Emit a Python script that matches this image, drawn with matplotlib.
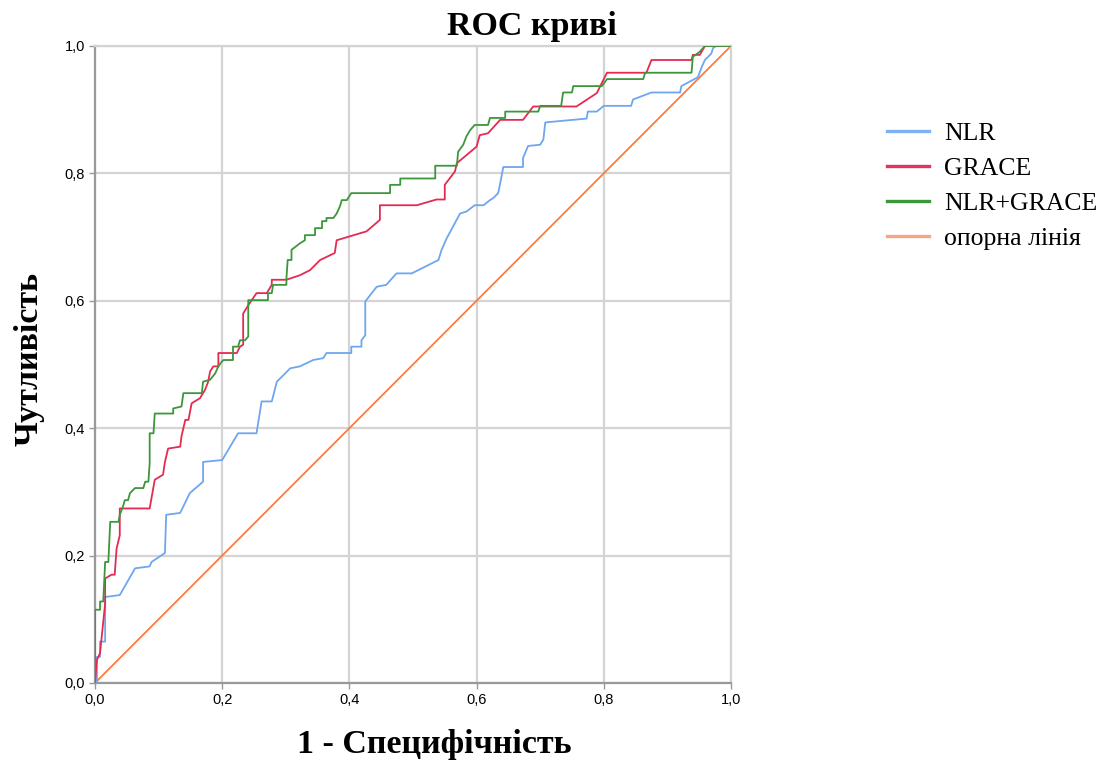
import numpy as np
import matplotlib
matplotlib.use("Agg")
import matplotlib.pyplot as plt
from matplotlib.lines import Line2D

# ROC точки (1 - специфічність, чутливість)
nlr_x = [0, 0.003, 0.003, 0.008, 0.008, 0.016, 0.016, 0.039, 0.063, 0.086, 0.089, 0.11, 0.112, 0.134, 0.149,
         0.17, 0.17, 0.2, 0.225, 0.254, 0.262, 0.278, 0.286, 0.307, 0.322, 0.343, 0.359, 0.364, 0.403, 0.403,
         0.419, 0.419, 0.425, 0.425, 0.443, 0.458, 0.474, 0.498, 0.54, 0.545, 0.553, 0.574, 0.584, 0.597,
         0.611, 0.621, 0.626, 0.634, 0.637, 0.642, 0.673, 0.673, 0.681, 0.7, 0.705, 0.708, 0.773, 0.775,
         0.789, 0.8, 0.843, 0.846, 0.875, 0.92, 0.922, 0.948, 0.954, 0.959, 0.961, 0.969, 0.972, 0.977, 1]
nlr_y = [0, 0, 0.041, 0.041, 0.065, 0.065, 0.135, 0.138, 0.18, 0.183, 0.19, 0.204, 0.264, 0.267, 0.298,
         0.316, 0.347, 0.35, 0.392, 0.392, 0.442, 0.442, 0.473, 0.494, 0.497, 0.507, 0.51, 0.518, 0.518, 0.528,
         0.528, 0.538, 0.546, 0.599, 0.622, 0.625, 0.643, 0.643, 0.664, 0.68, 0.698, 0.737, 0.74, 0.75,
         0.75, 0.758, 0.761, 0.769, 0.784, 0.81, 0.81, 0.824, 0.843, 0.845, 0.853, 0.88, 0.886, 0.897,
         0.897, 0.906, 0.906, 0.916, 0.927, 0.927, 0.937, 0.951, 0.967, 0.978, 0.98, 0.988, 0.997, 1.0, 1]

grace_x = [0, 0.003, 0.008, 0.016, 0.016, 0.026, 0.031, 0.034, 0.039, 0.039, 0.086, 0.094, 0.107, 0.11,
           0.115, 0.134, 0.136, 0.142, 0.147, 0.152, 0.16, 0.165, 0.173, 0.178, 0.181, 0.186, 0.194, 0.194,
           0.223, 0.228, 0.233, 0.233, 0.241, 0.254, 0.27, 0.278, 0.278, 0.301, 0.322, 0.338, 0.354, 0.377,
           0.38, 0.427, 0.448, 0.448, 0.506, 0.537, 0.55, 0.55, 0.566, 0.569, 0.6, 0.605, 0.618, 0.637,
           0.673, 0.689, 0.757, 0.789, 0.805, 0.867, 0.875, 0.938, 0.94, 0.951, 0.959, 1]
grace_y = [0, 0.036, 0.047, 0.125, 0.164, 0.17, 0.17, 0.211, 0.232, 0.274, 0.274, 0.319, 0.327, 0.347,
           0.368, 0.371, 0.387, 0.413, 0.413, 0.439, 0.444, 0.447, 0.46, 0.473, 0.489, 0.497, 0.497, 0.518,
           0.518, 0.528, 0.531, 0.58, 0.593, 0.612, 0.612, 0.625, 0.633, 0.633, 0.64, 0.648, 0.664, 0.675,
           0.695, 0.709, 0.727, 0.75, 0.75, 0.759, 0.759, 0.782, 0.803, 0.816, 0.842, 0.86, 0.863, 0.884,
           0.884, 0.905, 0.905, 0.926, 0.958, 0.958, 0.978, 0.978, 0.986, 0.986, 1.0, 1]

comb_x = [0, 0, 0.008, 0.008, 0.013, 0.016, 0.021, 0.024, 0.037, 0.039, 0.044, 0.047, 0.052, 0.055, 0.063,
          0.076, 0.079, 0.084, 0.086, 0.086, 0.092, 0.094, 0.123, 0.123, 0.136, 0.139, 0.168, 0.17, 0.181,
          0.189, 0.194, 0.199, 0.202, 0.217, 0.217, 0.225, 0.228, 0.236, 0.241, 0.241, 0.272, 0.272, 0.278,
          0.28, 0.301, 0.301, 0.303, 0.309, 0.309, 0.322, 0.33, 0.33, 0.346, 0.346, 0.357, 0.357, 0.364,
          0.364, 0.375, 0.38, 0.385, 0.388, 0.396, 0.403, 0.464, 0.464, 0.48, 0.48, 0.535, 0.535, 0.569,
          0.571, 0.579, 0.584, 0.59, 0.597, 0.618, 0.621, 0.645, 0.645, 0.697, 0.7, 0.733, 0.736, 0.75,
          0.752, 0.797, 0.805, 0.862, 0.865, 0.938, 0.94, 0.951, 0.959, 1]
comb_y = [0, 0.115, 0.115, 0.128, 0.128, 0.19, 0.19, 0.253, 0.253, 0.264, 0.277, 0.287, 0.287, 0.298, 0.306,
          0.306, 0.316, 0.316, 0.345, 0.392, 0.392, 0.423, 0.423, 0.431, 0.434, 0.455, 0.455, 0.473, 0.476,
          0.486, 0.497, 0.504, 0.507, 0.507, 0.528, 0.528, 0.538, 0.538, 0.544, 0.601, 0.601, 0.612, 0.612,
          0.625, 0.625, 0.635, 0.664, 0.664, 0.68, 0.69, 0.695, 0.703, 0.703, 0.714, 0.714, 0.725, 0.725,
          0.73, 0.73, 0.737, 0.748, 0.758, 0.758, 0.769, 0.769, 0.782, 0.782, 0.792, 0.792, 0.812, 0.812,
          0.834, 0.845, 0.858, 0.868, 0.876, 0.876, 0.887, 0.887, 0.897, 0.897, 0.906, 0.906, 0.927, 0.927,
          0.937, 0.937, 0.948, 0.948, 0.958, 0.958, 0.983, 0.991, 1.0, 1]

ref_x = [0, 1]
ref_y = [0, 1]

labels = ["NLR", "GRACE", "NLR+GRACE", "опорна лінія"]
colors = ["#6ea6ef", "#e52a52", "#3c963c", "#ff7b3a"]
legend_colors = ["#7fb0f0", "#e0355e", "#3c963c", "#f6a683"]

serif = ["Liberation Serif", "DejaVu Serif"]
sans = ["Liberation Sans Narrow", "Liberation Sans", "DejaVu Sans"]

fig = plt.figure(figsize=(11.16, 7.65), dpi=100)
ax = fig.add_axes([0.0851, 0.1072, 0.5699, 0.8327])

ax.plot(nlr_x, nlr_y, color=colors[0], lw=1.3, zorder=3)
ax.plot(grace_x, grace_y, color=colors[1], lw=1.3, zorder=4)
ax.plot(comb_x, comb_y, color=colors[2], lw=1.3, zorder=5)
ax.plot(ref_x, ref_y, color=colors[3], lw=1.3, zorder=2)

ax.set_xlim(0, 1)
ax.set_ylim(0, 1)
ticks = np.arange(0, 1.01, 0.2)
ax.set_xticks(ticks)
ax.set_yticks(ticks)
ax.set_xticklabels([f"{t:.1f}".replace(".", ",") for t in ticks], family=sans, fontsize=10.5)
ax.set_yticklabels([f"{t:.1f}".replace(".", ",") for t in ticks], family=sans, fontsize=10.5)
ax.tick_params(length=4, width=1, color="#999999", pad=3)
ax.grid(True, color="#d4d4d4", lw=1.6, zorder=0)
ax.set_axisbelow(True)
for s in ["left", "bottom"]:
    ax.spines[s].set_color("#999999")
    ax.spines[s].set_linewidth(1.6)
for s in ["top", "right"]:
    ax.spines[s].set_color("#d4d4d4")
    ax.spines[s].set_linewidth(1.6)

# підписи осей і заголовок
fig.text(0.389, 0.027, "1 - Специфічність", family=serif, fontweight="bold", fontsize=24.5,
         ha="center", va="center")
fig.text(0.026, 0.531, "Чутливість", family=serif, fontweight="bold", fontsize=24.5,
         ha="center", va="center", rotation=90)
fig.text(0.477, 0.966, "ROC криві", family=serif, fontweight="bold", fontsize=24.5,
         ha="center", va="center")

handles = [Line2D([], [], color=c, lw=2.4) for c in legend_colors]
fig.legend(handles, labels, loc="upper left", bbox_to_anchor=(0.7948, 0.84), frameon=False,
           prop={"family": serif, "size": 18.5}, handlelength=1.63, handletextpad=0.58,
           labelspacing=0.46, borderpad=0, borderaxespad=0)

fig.savefig("out.png", dpi=100)
